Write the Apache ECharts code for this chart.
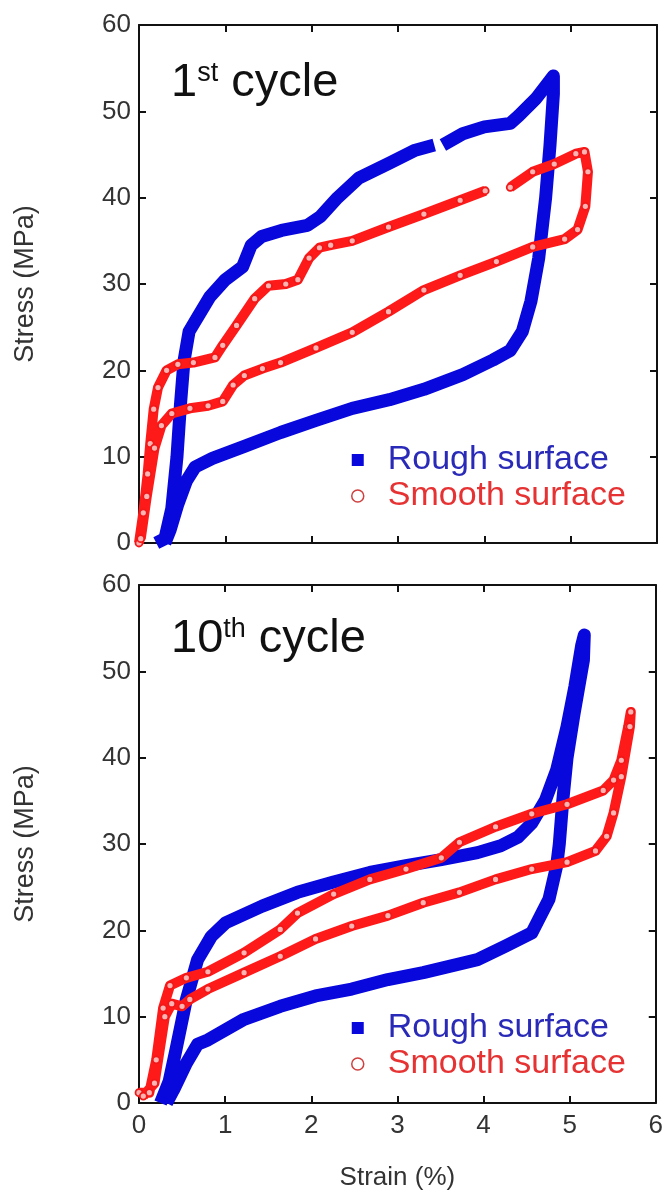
<!DOCTYPE html>
<html>
<head>
<meta charset="utf-8">
<script src="https://cdn.jsdelivr.net/npm/echarts@6/dist/echarts.min.js"></script>
<style>
  html, body { margin: 0; padding: 0; background: #fff; }
  #main { width: 666px; height: 1198px; }
</style>
</head>
<body>
<div id="main"></div>
<script>
// axis ticks
var strainTicks = [0, 1, 2, 3, 4, 5, 6];
var stressTicks = [0, 10, 20, 30, 40, 50, 60];

// 1st cycle, rough surface [strain %, stress MPa]
var rough1 = [
  [0.2,0],[0.3,0.5],[0.38,4],[0.44,10],[0.48,16],[0.52,21],[0.58,24.5],[0.7,26.5],[0.82,28.5],[1.0,30.5],
  [1.2,32],[1.3,34.5],[1.42,35.5],[1.65,36.2],[1.95,36.8],[2.1,37.8],[2.3,40],[2.55,42.3],[2.9,44],[3.2,45.5],
  [3.42,46.1],['-','-'],[3.52,46.1],[3.75,47.4],[4.0,48.2],[4.3,48.6],[4.4,49.5],[4.6,51.5],[4.8,54.1],
  [4.8,52],[4.76,46],[4.71,40],[4.63,33],[4.54,28],[4.44,24.5],[4.3,22.3],[4.1,21.2],[3.75,19.5],[3.3,17.8],
  [2.9,16.6],[2.47,15.6],[2.05,14.2],[1.64,12.8],[1.22,11.2],[0.85,9.8],[0.65,8.8],[0.55,7.2],[0.45,4.5],
  [0.36,1.5],[0.3,0]
];

// 1st cycle, smooth surface
var smooth1 = [
  [0,0],[0.05,3.5],[0.1,8],[0.13,11.5],[0.17,15.5],[0.22,18],[0.32,20],[0.45,20.7],[0.63,20.9],[0.88,21.5],
  [0.97,22.9],[1.13,25.2],[1.34,28.3],[1.5,29.8],[1.7,30],[1.84,30.5],[1.97,33],[2.09,34.2],[2.22,34.5],
  [2.47,35],[2.89,36.6],[3.3,38.1],[3.72,39.7],[4.01,40.8],['-','-'],[4.3,41.2],[4.56,43],[4.81,43.9],
  [5.06,45.1],[5.16,45.3],[5.2,43],[5.17,39],[5.08,36.3],[4.93,35.2],[4.56,34.3],[4.14,32.6],[3.72,31],
  [3.3,29.3],[2.89,26.8],[2.47,24.4],[2.05,22.6],[1.64,20.9],[1.43,20.2],[1.22,19.4],[1.09,18.3],[0.97,16.4],
  [0.8,15.9],[0.59,15.6],[0.38,15],[0.26,13.6],[0.18,11],[0.09,5.4],[0.02,0.5]
];

// 10th cycle, rough surface
var rough10 = [
  [0.25,0],[0.35,2.5],[0.43,6.2],[0.55,12],[0.68,16.6],[0.84,19.3],[1.01,20.9],[1.43,22.8],[1.84,24.4],
  [2.26,25.6],[2.68,26.7],[3.1,27.5],[3.51,28.2],[3.93,29],[4.2,29.8],[4.4,30.8],[4.56,32.4],[4.72,35.1],
  [4.85,38.6],[4.97,43.6],[5.06,48.2],[5.14,53],[5.17,54.2],[5.16,51.3],[5.05,45],[4.97,40],[4.92,35],
  [4.88,30],[4.85,27.5],[4.76,23.6],[4.56,19.7],[4.26,18.2],[3.93,16.6],[3.3,15.1],[2.89,14.3],[2.47,13.2],
  [2.05,12.4],[1.64,11.2],[1.22,9.7],[0.8,7.3],[0.68,6.8],[0.55,4.6],[0.4,1.5],[0.32,0]
];

// 10th cycle, smooth surface
var smooth10 = [
  [0.0,1.2],[0.12,1.2],[0.2,5],[0.28,11],[0.36,13.6],[0.55,14.5],[0.8,15.2],[1.22,17.4],[1.64,20.1],
  [1.84,22],[2.26,24.2],[2.68,25.9],[3.1,27.1],[3.51,28.4],[3.72,30.2],[4.14,32],[4.56,33.5],[4.97,34.6],
  [5.39,36.2],[5.51,37.4],[5.6,39.7],[5.68,43.6],[5.71,45.3],[5.7,43.6],[5.6,37.8],[5.51,33.6],[5.43,30.9],
  [5.3,29.2],[4.97,27.9],[4.56,27.1],[4.14,25.9],[3.72,24.4],[3.3,23.2],[2.89,21.7],[2.47,20.5],[2.05,19],
  [1.64,17],[1.22,15.1],[0.8,13.2],[0.59,12],[0.5,11.2],[0.38,11.5],[0.3,10],[0.18,2.3],[0.05,0.8]
];

var blue = '#0808dc';
var red = '#ff1a1a';
var font = '"Liberation Sans", Arial, sans-serif';

var chart = echarts.init(document.getElementById('main'));

var frameLine = { onZero: false, lineStyle: { color: '#111', width: 2 } };
var frameTick = { inside: true, length: 7, lineStyle: { color: '#111', width: 2 } };

function xAxes(gridIndex, showLabel) {
  return [{
    gridIndex: gridIndex, type: 'value', position: 'bottom',
    min: strainTicks[0], max: strainTicks[strainTicks.length - 1], interval: 1,
    name: showLabel ? 'Strain (%)' : '', nameLocation: 'middle', nameGap: 62,
    nameTextStyle: { fontFamily: font, fontSize: 26, color: '#333' },
    axisLine: frameLine, axisTick: frameTick,
    axisLabel: { show: showLabel, fontFamily: font, fontSize: 26, color: '#333', margin: 10 },
    splitLine: { show: false }
  }, {
    gridIndex: gridIndex, type: 'value', position: 'top',
    min: strainTicks[0], max: strainTicks[strainTicks.length - 1], interval: 1,
    axisLine: frameLine, axisTick: frameTick,
    axisLabel: { show: false },
    splitLine: { show: false }
  }];
}

function yAxes(gridIndex) {
  return [{
    gridIndex: gridIndex, type: 'value', position: 'left',
    min: stressTicks[0], max: stressTicks[stressTicks.length - 1], interval: 10,
    name: 'Stress (MPa)', nameLocation: 'middle', nameGap: 100, nameRotate: 90,
    nameTextStyle: { fontFamily: font, fontSize: 27, color: '#333' },
    axisLine: frameLine, axisTick: frameTick,
    axisLabel: { fontFamily: font, fontSize: 26, color: '#333', margin: 8 },
    splitLine: { show: false }
  }, {
    gridIndex: gridIndex, type: 'value', position: 'right',
    min: stressTicks[0], max: stressTicks[stressTicks.length - 1], interval: 10,
    axisLine: frameLine, axisTick: frameTick,
    axisLabel: { show: false },
    splitLine: { show: false }
  }];
}

function roughSeries(data, idx) {
  return {
    name: 'Rough surface', type: 'line', data: data,
    xAxisIndex: idx * 2, yAxisIndex: idx * 2,
    showSymbol: false, symbol: 'rect', animation: false,
    lineStyle: { color: blue, width: 13, join: 'round' },
    itemStyle: { color: blue },
    z: 2
  };
}

function smoothSeries(data, idx) {
  return {
    name: 'Smooth surface', type: 'line', data: data,
    xAxisIndex: idx * 2, yAxisIndex: idx * 2,
    showSymbol: true, symbol: 'circle', symbolSize: 7, animation: false,
    lineStyle: { color: red, width: 10, join: 'round' },
    itemStyle: { color: '#ffb4b4', borderColor: '#f01818', borderWidth: 1.8 },
    z: 3
  };
}

function legendFor(top) {
  return {
    orient: 'vertical', left: 351, top: top, padding: 0,
    itemWidth: 12, itemHeight: 12, itemGap: 2,
    textStyle: { fontFamily: font, fontSize: 34, padding: [0, 0, 0, 19] },
    data: [
      { name: 'Rough surface', icon: 'rect', itemStyle: { color: blue }, textStyle: { color: '#2a2ab8' } },
      { name: 'Smooth surface', icon: 'circle', itemStyle: { color: '#fff', borderColor: '#d04040', borderWidth: 1.5 }, textStyle: { color: '#e63232' } }
    ]
  };
}

function cycleLabel(y, num, sup) {
  return {
    type: 'text', left: 171, top: y, silent: true,
    style: {
      text: '{a|' + num + '}{b|' + sup + '}{a| cycle}',
      rich: {
        a: { fontFamily: font, fontSize: 47, fill: '#111' },
        b: { fontFamily: font, fontSize: 27, fill: '#111', verticalAlign: 'top' }
      }
    }
  };
}

var option = {
  backgroundColor: '#fff',
  animation: false,
  grid: [
    { left: 139, top: 25, width: 518, height: 518 },
    { left: 139, top: 585, width: 518, height: 518 }
  ],
  xAxis: xAxes(0, false).concat(xAxes(1, true)),
  yAxis: yAxes(0).concat(yAxes(1)),
  legend: [legendFor(443), legendFor(1011)],
  series: [
    roughSeries(rough1, 0), smoothSeries(smooth1, 0),
    roughSeries(rough10, 1), smoothSeries(smooth10, 1)
  ],
  graphic: [cycleLabel(60, '1', 'st'), cycleLabel(616, '10', 'th')]
};

chart.setOption(option);
</script>
</body>
</html>
